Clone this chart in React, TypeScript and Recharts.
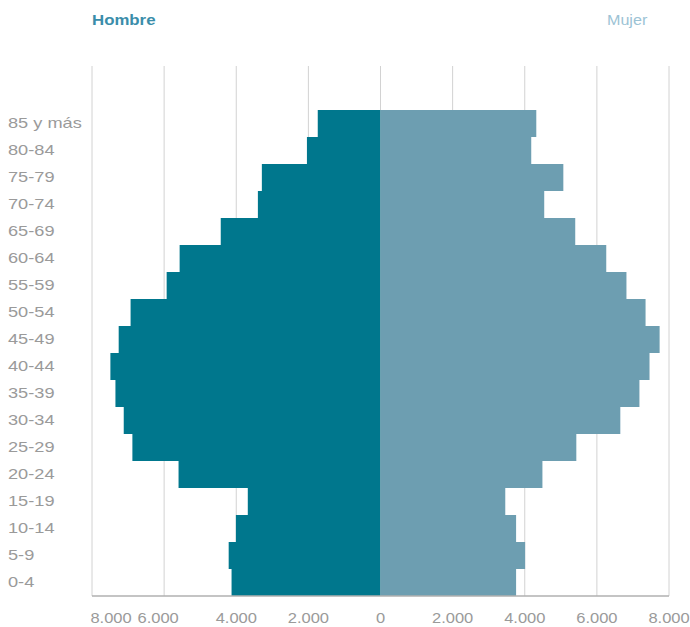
import { Bar, BarChart, CartesianGrid, XAxis, YAxis } from "recharts";

// Grupos de edad, de arriba hacia abajo
const GRUPOS = [
  "85 y más",
  "80-84",
  "75-79",
  "70-74",
  "65-69",
  "60-64",
  "55-59",
  "50-54",
  "45-49",
  "40-44",
  "35-39",
  "30-34",
  "25-29",
  "20-24",
  "15-19",
  "10-14",
  "5-9",
  "0-4",
];

const HOMBRES = [
  1740, 2040, 3290, 3400, 4430, 5570, 5930, 6930, 7260, 7490, 7350, 7120, 6880,
  5600, 3680, 4010, 4210, 4130,
];

const MUJERES = [
  4320, 4180, 5070, 4540, 5400, 6260, 6820, 7350, 7740, 7460, 7180, 6650, 5430,
  4490, 3460, 3760, 4010, 3760,
];

const TICKS_X = [-8000, -6000, -4000, -2000, 0, 2000, 4000, 6000, 8000];

const HOMBRE = "#00778d";
const MUJER = "#6d9eb1";
const GRID = "#d2d2d2";
const TEXTO = "#9a9a9a";
const FUENTE = "'Liberation Sans', Arial, sans-serif";

// pequeños ajustes de las etiquetas del eje x como en el original
const TICK_DX: Record<number, number> = { [-8000]: 19, [-6000]: -6 };

const datos = GRUPOS.map((g, i) => ({
  grupo: g,
  hombre: -HOMBRES[i],
  mujer: MUJERES[i],
}));

function miles(v: number): string {
  return String(Math.abs(v)).replace(/\B(?=(\d{3})+(?!\d))/g, ".");
}

function TickX({ x, y, payload }: any) {
  const dx = TICK_DX[payload.value] ?? 0;
  return (
    <text
      transform={`translate(${x + dx}, ${y + 19}) scale(1.1 1)`}
      textAnchor="middle"
      fontSize={15}
      fill={TEXTO}
      fontFamily={FUENTE}
    >
      {miles(payload.value)}
    </text>
  );
}

function TickY({ y, payload }: any) {
  return (
    <text
      transform={`translate(8, ${y}) scale(1.3 1)`}
      dy="0.35em"
      textAnchor="start"
      fontSize={14}
      fill={TEXTO}
      fontFamily={FUENTE}
    >
      {payload.value}
    </text>
  );
}

export default function App() {
  return (
    <div
      style={{
        position: "absolute",
        left: 0,
        top: 0,
        width: 690,
        height: 627,
        background: "#fff",
        fontFamily: FUENTE,
      }}
    >
      <div
        style={{
          position: "absolute",
          left: 92,
          top: 12,
          fontSize: 14,
          fontWeight: 700,
          color: "#3a8daa",
          transform: "scaleX(1.2)",
          transformOrigin: "left",
        }}
      >
        Hombre
      </div>
      <div
        style={{
          position: "absolute",
          left: 607,
          top: 12,
          fontSize: 14,
          color: "#9cc3d5",
          transform: "scaleX(1.15)",
          transformOrigin: "left",
        }}
      >
        Mujer
      </div>
      <BarChart
        width={690}
        height={627}
        data={datos}
        layout="vertical"
        stackOffset="sign"
        barCategoryGap={0}
        margin={{ top: 66, right: 21, bottom: 0, left: 0 }}
      >
        <CartesianGrid stroke={GRID} horizontal={false} />
        <XAxis
          type="number"
          domain={[-8000, 8000]}
          ticks={TICKS_X}
          height={31}
          tick={<TickX />}
          tickLine={false}
          axisLine={{ stroke: "#b0b0b0", strokeWidth: 1.5 }}
        />
        <YAxis
          type="category"
          dataKey="grupo"
          width={92}
          padding={{ top: 44, bottom: 0 }}
          tick={<TickY />}
          axisLine={false}
          tickLine={false}
          interval={0}
        />
        <Bar
          dataKey="hombre"
          stackId="p"
          fill={HOMBRE}
          isAnimationActive={false}
        />
        <Bar
          dataKey="mujer"
          stackId="p"
          fill={MUJER}
          isAnimationActive={false}
        />
      </BarChart>
    </div>
  );
}
